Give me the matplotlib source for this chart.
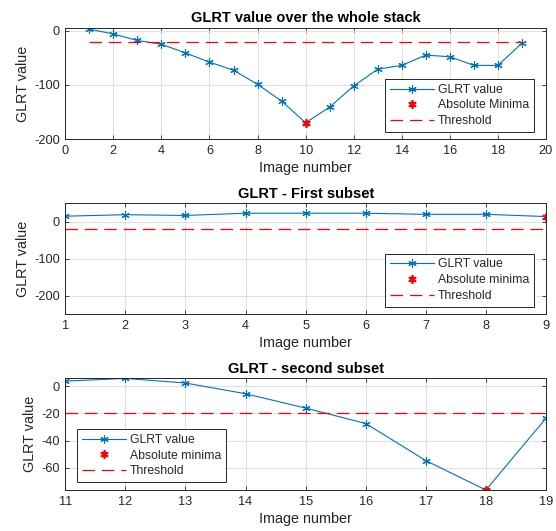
import matplotlib.pyplot as plt

plt.rcParams['font.family'] = ['Liberation Sans', 'DejaVu Sans']
plt.rcParams['axes.unicode_minus'] = False

# whole stack
img_all = list(range(1, 20))
glrt_all = [3, -6, -18, -25, -41, -58, -73, -99, -130, -170, -141, -102,
            -71, -64, -45, -48, -64, -64, -23]

# first subset
img_first = list(range(1, 10))
glrt_first = [15, 19, 17, 23, 23, 23, 20, 20, 14]

# second subset
img_second = list(range(11, 20))
glrt_second = [3.9, 5.9, 2.5, -5.4, -16, -27.4, -54.8, -76.5, -23.5]

threshold = -20

BLUE = '#0072BD'
DARK = '#262626'
ASTER = (6, 2, 0)


def style_axes(ax):
    ax.grid(True, color='#e0e0e0', linewidth=0.8)
    ax.set_axisbelow(True)
    ax.tick_params(direction='in', top=True, right=True, labelsize=9.2,
                   colors=DARK, length=3, width=0.6, pad=4)
    for s in ax.spines.values():
        s.set_color(DARK)
        s.set_linewidth(0.7)
    ax.set_xlabel('Image number', fontsize=10.4, color=DARK, labelpad=3)
    ax.set_ylabel('GLRT value', fontsize=10.4, color=DARK, labelpad=3)


def draw(ax, x, y, title, min_label, loc, anchor, xlim, ylim, xticks,
         yticks, thr_x):
    ax.plot(x, y, color=BLUE, linewidth=0.8, marker=ASTER, markersize=6,
            markeredgewidth=0.8, label='GLRT value')
    i = y.index(min(y))
    ax.plot([x[i]], [y[i]], linestyle='none', marker=ASTER, color='red',
            markersize=6, markeredgewidth=1.3, label=min_label)
    ax.plot(thr_x, [threshold, threshold], 'r--', linewidth=0.9,
            dashes=(10, 5.5), label='Threshold')
    ax.set_xlim(*xlim)
    ax.set_ylim(*ylim)
    ax.set_xticks(xticks)
    ax.set_yticks(yticks)
    ax.set_title(title, fontsize=10.5, fontweight='bold', color='black', pad=4)
    style_axes(ax)
    leg = ax.legend(loc=loc, bbox_to_anchor=anchor, borderaxespad=0,
                    fontsize=8.8, fancybox=False, framealpha=1,
                    edgecolor=DARK, handlelength=3.6, borderpad=0.4,
                    labelspacing=0.3, handletextpad=0.3)
    leg.get_frame().set_linewidth(0.7)
    for t in leg.get_texts():
        t.set_color(DARK)


fig = plt.figure(figsize=(5.56, 5.31), dpi=100)

ax1 = fig.add_axes([0.1174, 0.7382, 0.8646, 0.209])
draw(ax1, img_all, glrt_all, 'GLRT value over the whole stack',
     'Absolute Minima', 'lower right', (0.975, 0.063), (0, 20), (-200, 5),
     range(0, 21, 2), [-200, -100, 0], [1, 19])

ax2 = fig.add_axes([0.1174, 0.4087, 0.8646, 0.2085])
draw(ax2, img_first, glrt_first, 'GLRT - First subset',
     'Absolute minima', 'lower right', (0.975, 0.066), (1, 9), (-250, 50),
     range(1, 10), [-200, -100, 0], [1, 9])

ax3 = fig.add_axes([0.1174, 0.0772, 0.8646, 0.2104])
draw(ax3, img_second, glrt_second, 'GLRT - second subset',
     'Absolute minima', 'lower left', (0.025, 0.069), (11, 19), (-76.5, 6),
     range(11, 20), [-60, -40, -20, 0], [11, 19])

fig.savefig('out.png', dpi=100)
